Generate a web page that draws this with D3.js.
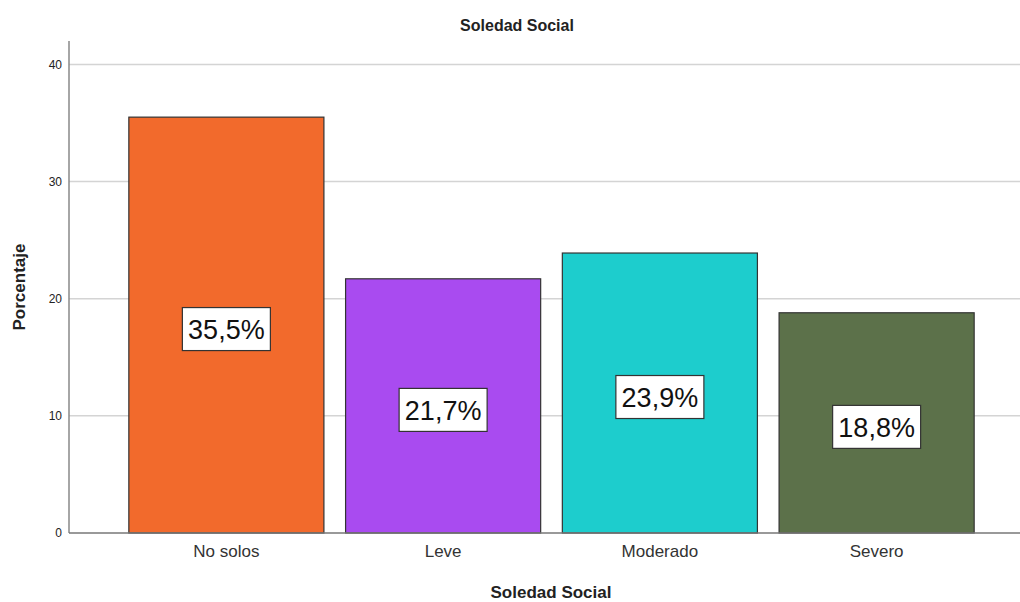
<!DOCTYPE html>
<html>
<head>
<meta charset="utf-8">
<script src="https://cdn.jsdelivr.net/npm/d3@7"></script>
<style>
  body { margin: 0; background: #fff; }
  text { font-family: "Liberation Sans", Arial, sans-serif; }
</style>
</head>
<body>
<svg id="chart" width="1020" height="602"></svg>
<script>
// chart data
var categories = ["No solos", "Leve", "Moderado", "Severo"];
var percents = [35.5, 21.7, 23.9, 18.8];
var barLabels = ["35,5%", "21,7%", "23,9%", "18,8%"];
var barColors = ["#F26A2C", "#A94BF0", "#1DCDCD", "#5C714A"];
var yTicks = [0, 10, 20, 30, 40];

var svg = d3.select("#chart");

// plot area (don't call it "top", window.top is read-only)
var plotLeft = 69, plotRight = 1020, plotTop = 41, plotBottom = 533;

var x = d3.scaleBand()
    .domain(categories)
    .range([118, 985])
    .paddingInner(0.1)
    .paddingOuter(0.05);

var y = d3.scaleLinear()
    .domain([0, 42])
    .range([plotBottom, plotTop]);

// gridlines
svg.append("g")
    .selectAll("line")
    .data(yTicks.filter(function (d) { return d > 0; }))
    .enter()
    .append("line")
    .attr("x1", plotLeft)
    .attr("x2", plotRight)
    .attr("y1", function (d) { return y(d); })
    .attr("y2", function (d) { return y(d); })
    .style("stroke", "#d4d4d4")
    .style("stroke-width", 1.5);

// y axis
var yAxis = svg.append("g")
    .attr("transform", "translate(" + plotLeft + ",0)")
    .call(d3.axisLeft(y).tickValues(yTicks).tickSize(0).tickPadding(7));
yAxis.select(".domain").remove();
yAxis.selectAll("text")
    .style("font-size", "12px")
    .style("fill", "#222")
    .style("font-family", "Liberation Sans, Arial, sans-serif");

svg.append("line")
    .attr("x1", plotLeft).attr("x2", plotLeft)
    .attr("y1", plotTop).attr("y2", plotBottom)
    .style("stroke", "#888")
    .style("stroke-width", 1.5);

// bars
var data = categories.map(function (c, i) {
    return { cat: c, value: percents[i], label: barLabels[i], color: barColors[i] };
});

svg.append("g")
    .selectAll("rect")
    .data(data)
    .enter()
    .append("rect")
    .attr("x", function (d) { return x(d.cat); })
    .attr("y", function (d) { return y(d.value); })
    .attr("width", x.bandwidth())
    .attr("height", function (d) { return y(0) - y(d.value); })
    .style("fill", function (d) { return d.color; })
    .style("stroke", "#333")
    .style("stroke-width", 1.2);

// x axis baseline
svg.append("line")
    .attr("x1", plotLeft).attr("x2", plotRight)
    .attr("y1", plotBottom).attr("y2", plotBottom)
    .style("stroke", "#777")
    .style("stroke-width", 1.5);

// category labels
var xAxis = svg.append("g")
    .attr("transform", "translate(0," + plotBottom + ")")
    .call(d3.axisBottom(x).tickSize(0).tickPadding(12));
xAxis.select(".domain").remove();
xAxis.selectAll("text")
    .style("font-size", "17px")
    .style("fill", "#333")
    .style("font-family", "Liberation Sans, Arial, sans-serif");

// value labels in boxes
var labels = svg.append("g")
    .selectAll("g")
    .data(data)
    .enter()
    .append("g")
    .attr("transform", function (d) {
        var cy = (y(d.value) + y(0)) / 2 + 4;
        return "translate(" + (x(d.cat) + x.bandwidth() / 2) + "," + cy + ")";
    });

labels.append("rect")
    .attr("x", -44)
    .attr("y", -21.5)
    .attr("width", 88)
    .attr("height", 43)
    .style("fill", "#fff")
    .style("stroke", "#333")
    .style("stroke-width", 1.2);

labels.append("text")
    .attr("text-anchor", "middle")
    .attr("dy", "0.36em")
    .style("font-size", "27px")
    .style("fill", "#111")
    .text(function (d) { return d.label; });

// titles
svg.append("text")
    .attr("x", 517)
    .attr("y", 31)
    .attr("text-anchor", "middle")
    .style("font-size", "16px")
    .style("font-weight", "bold")
    .style("fill", "#222")
    .text("Soledad Social");

svg.append("text")
    .attr("x", 551)
    .attr("y", 598)
    .attr("text-anchor", "middle")
    .style("font-size", "17px")
    .style("font-weight", "bold")
    .style("fill", "#222")
    .text("Soledad Social");

svg.append("text")
    .attr("transform", "translate(25,287) rotate(-90)")
    .attr("text-anchor", "middle")
    .style("font-size", "17px")
    .style("font-weight", "bold")
    .style("fill", "#222")
    .text("Porcentaje");
</script>
</body>
</html>
